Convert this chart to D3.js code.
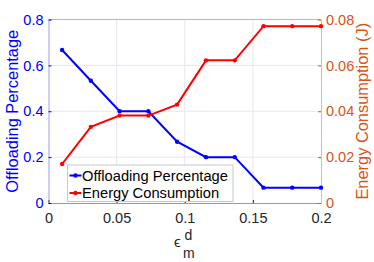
<!DOCTYPE html>
<html>
<head>
<meta charset="utf-8">
<script src="https://cdn.jsdelivr.net/npm/d3@7"></script>
<style>
  body { margin: 0; background: #fff; }
  text { font-family: "Liberation Sans", Arial, sans-serif; }
</style>
</head>
<body>
<div class="chart"></div>
<script>
// data
const epsValues = [0.01, 0.0311, 0.0522, 0.0733, 0.0944, 0.1156, 0.1367, 0.1578, 0.1789, 0.2]
const offloading = [0.667, 0.533, 0.4, 0.4, 0.267, 0.2, 0.2, 0.067, 0.067, 0.067]
const energy = [0.017, 0.0332, 0.0381, 0.0381, 0.0429, 0.0622, 0.0622, 0.0771, 0.0771, 0.0771]
const xTicks = [0, 0.05, 0.1, 0.15, 0.2]
const leftTicks = [0, 0.2, 0.4, 0.6, 0.8]
const rightTicks = [0, 0.02, 0.04, 0.06, 0.08]
const seriesNames = ["Offloading Percentage", "Energy Consumption"]

const W = 374, H = 262
const margin = {left: 48.5, right: 53, top: 19.5, bottom: 59}
const width = W - margin.left - margin.right,
      height = H - margin.top - margin.bottom

const blue = "#0000ff", red = "#ff0000", orange = "#D95319", dark = "#262626"

const svg = d3.select(".chart").append("svg")
  .attr("width", W).attr("height", H)

const g = svg.append("g").attr("transform", `translate(${margin.left},${margin.top})`)

const xs = d3.scaleLinear().domain([0, 0.2]).range([0, width])
const yl = d3.scaleLinear().domain([0, 0.8]).range([height, 0])
const yr = d3.scaleLinear().domain([0, 0.08]).range([height, 0])

// grid
g.selectAll(".gx").data(xTicks.slice(1, -1)).join("line")
  .attr("x1", d => xs(d)).attr("x2", d => xs(d))
  .attr("y1", 0).attr("y2", height)
  .attr("stroke", "#e6e6f0").attr("stroke-width", 1)
g.selectAll(".gy").data(leftTicks.slice(1, -1)).join("line")
  .attr("y1", d => yl(d)).attr("y2", d => yl(d))
  .attr("x1", 0).attr("x2", width)
  .attr("stroke", "#e6e6f0").attr("stroke-width", 1)

// top border
g.append("line").attr("x1", 0).attr("x2", width).attr("y1", 0).attr("y2", 0)
  .attr("stroke", "#b8b8b8")

// axes
const xAxis = g.append("g").attr("transform", `translate(0,${height})`)
  .call(d3.axisBottom(xs).tickValues(xTicks).tickSize(-3).tickPadding(10)
    .tickFormat(d => d === 0 ? "0" : d3.format("")(d)))
xAxis.select(".domain").attr("stroke", "#9a9a9a")
xAxis.selectAll(".tick line").attr("stroke", dark)
xAxis.selectAll("text").attr("fill", dark).attr("font-size", "14.5px")

const lAxis = g.append("g")
  .call(d3.axisLeft(yl).tickValues(leftTicks).tickSize(-3).tickPadding(5)
    .tickFormat(d => d === 0 ? "0" : d3.format("")(d)))
lAxis.select(".domain").attr("stroke", "#9a9aff")
lAxis.selectAll(".tick line").attr("stroke", blue)
lAxis.selectAll("text").attr("fill", blue).attr("font-size", "14.5px")

const rAxis = g.append("g").attr("transform", `translate(${width},0)`)
  .call(d3.axisRight(yr).tickValues(rightTicks).tickSize(-3).tickPadding(5)
    .tickFormat(d => d === 0 ? "0" : d3.format("")(d)))
rAxis.select(".domain").attr("stroke", "#f0b49c")
rAxis.selectAll(".tick line").attr("stroke", orange)
rAxis.selectAll("text").attr("fill", orange).attr("font-size", "14.5px")

g.selectAll(".domain").attr("stroke-width", 1)

// series
const pts1 = epsValues.map((x, i) => [x, offloading[i]])
const pts2 = epsValues.map((x, i) => [x, energy[i]])

g.append("path").datum(pts1)
  .attr("d", d3.line().x(d => xs(d[0])).y(d => yl(d[1])))
  .attr("fill", "none").attr("stroke", blue).attr("stroke-width", 2)
g.selectAll(".m1").data(pts1).join("circle")
  .attr("cx", d => xs(d[0])).attr("cy", d => yl(d[1])).attr("r", 2.2).attr("fill", blue)

g.append("path").datum(pts2)
  .attr("d", d3.line().x(d => xs(d[0])).y(d => yr(d[1])))
  .attr("fill", "none").attr("stroke", red).attr("stroke-width", 2)
g.selectAll(".m2").data(pts2).join("circle")
  .attr("cx", d => xs(d[0])).attr("cy", d => yr(d[1])).attr("r", 2.2).attr("fill", red)

// legend
const legend = svg.append("g").attr("transform", "translate(67.5,165)")
legend.append("rect").attr("width", 165.5).attr("height", 36.5)
  .attr("fill", "#fff").attr("stroke", "#c8c8c8")
const legColors = [blue, red]
legend.selectAll(".li").data(seriesNames).join("line")
  .attr("x1", 2).attr("x2", 14)
  .attr("y1", (d, i) => 10.5 + i * 17.5).attr("y2", (d, i) => 10.5 + i * 17.5)
  .attr("stroke", (d, i) => legColors[i]).attr("stroke-width", 2)
legend.selectAll(".lc").data(seriesNames).join("circle")
  .attr("cx", 8).attr("cy", (d, i) => 10.5 + i * 17.5).attr("r", 2.2)
  .attr("fill", (d, i) => legColors[i])
legend.selectAll(".lt").data(seriesNames).join("text")
  .attr("x", 14.5).attr("y", (d, i) => 10.5 + i * 17.5)
  .attr("dy", "0.35em").attr("font-size", "14.7px").attr("fill", "#000")
  .text(d => d)

// axis titles
svg.append("text")
  .attr("transform", `translate(18,${margin.top + height / 2}) rotate(-90)`)
  .attr("text-anchor", "middle").attr("font-size", "16.4px").attr("fill", blue)
  .text("Offloading Percentage")
svg.append("text")
  .attr("transform", `translate(368,${margin.top + height / 2}) rotate(-90)`)
  .attr("text-anchor", "middle").attr("font-size", "16.4px").attr("fill", orange)
  .text("Energy Consumption (J)")

const xl = svg.append("g").attr("transform", "translate(174,247)")
xl.append("text").attr("x", 0).attr("y", 0).attr("font-size", "15px").attr("fill", dark)
  .attr("font-family", "DejaVu Sans").text("ϵ")
xl.append("text").attr("x", 10.5).attr("y", -7).attr("font-size", "14px").attr("fill", dark).text("d")
xl.append("text").attr("x", 9).attr("y", 11).attr("font-size", "14px").attr("fill", dark).text("m")
</script>
</body>
</html>
